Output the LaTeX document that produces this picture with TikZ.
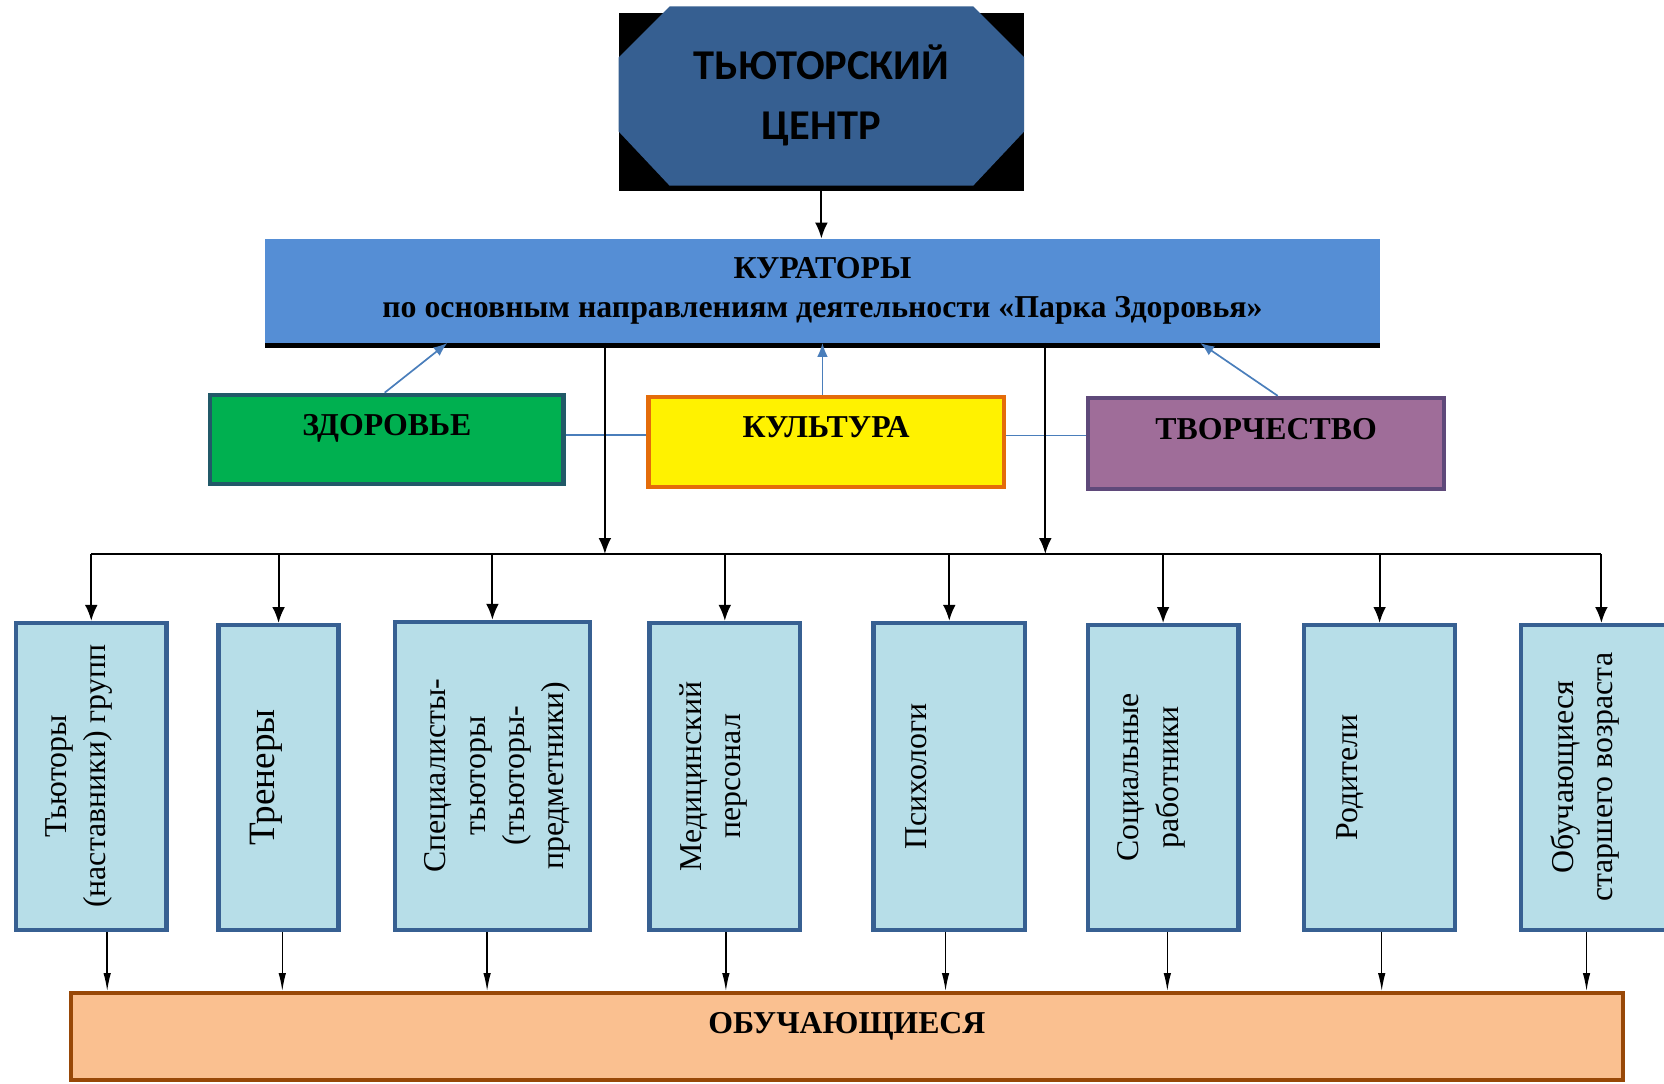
\documentclass[tikz,border=0pt]{standalone}
\usepackage{fontspec}
\setmainfont{Liberation Serif}
\newfontfamily\calfont{Carlito}
\usetikzlibrary{arrows.meta}

\definecolor{tcblue}{HTML}{365F91}
\definecolor{kurblue}{HTML}{558ED5}
\definecolor{zdfill}{HTML}{00B050}
\definecolor{zdline}{HTML}{215968}
\definecolor{kuline}{HTML}{E46C0A}
\definecolor{tvfill}{HTML}{9F6D99}
\definecolor{tvline}{HTML}{5F497A}
\definecolor{boxfill}{HTML}{B7DEE8}
\definecolor{boxline}{HTML}{376092}
\definecolor{uchfill}{HTML}{FAC090}
\definecolor{uchline}{HTML}{984807}
\definecolor{linkblue}{HTML}{4A7EBB}

\tikzset{
	hd/.style={font=\bfseries\fontsize{30}{36}\selectfont},
	tctext/.style={font=\calfont\bfseries\fontsize{40}{56}\selectfont, align=center, inner sep=0pt},
	mbox/.style={hd, line width=4pt, inner sep=0pt, text height=19pt, text depth=27pt},
	pbox/.style={draw=boxline, fill=boxfill, line width=4pt},
	vtext/.style={rotate=90, anchor=north, align=center, inner sep=0pt, font=\fontsize{30}{37}\selectfont},
	arr/.style={line width=1.8pt, -{Latex[length=15pt,width=12pt]}},
	sarr/.style={line width=1.3pt, -{Latex[length=17pt,width=7pt]}},
	bus/.style={line width=2pt},
	bline/.style={draw=linkblue, line width=1.6pt},
	barr/.style={draw=linkblue, fill=linkblue, line width=1.6pt, -{Latex[length=13pt,width=10pt]}}
}

\begin{document}
\begin{tikzpicture}[x=1pt,y=-1pt]
		\useasboundingbox (0,0) rectangle (1568,1021);

		% tutor centre
		\draw (774,96) node [fill=black, minimum width=382pt, minimum height=168pt, inner sep=0pt] (tcb) {};
		\fill[tcblue] (583,54) -- (631,6) -- (917,6) -- (965,54) -- (965,124) -- (917,175) -- (631,175) -- (583,124) -- cycle;
		\draw (774,90) node [tctext] (tc) {ТЬЮТОРСКИЙ\\ЦЕНТР};

		% curators
		\draw (775,274) node [fill=kurblue, minimum width=1050pt, minimum height=98pt, hd, align=center] (kur) {КУРАТОРЫ\\по основным направлениям деятельности «Парка Здоровья»};
		\draw[line width=5pt] ([yshift=-2.5pt]kur.south west) -- ([yshift=-2.5pt]kur.south east);

		% directions
		\draw (364.5,414) node [mbox, draw=zdline, fill=zdfill, minimum width=333pt, minimum height=84pt] (zd) {ЗДОРОВЬЕ};
		\draw (778.5,416.5) node [mbox, draw=kuline, fill=yellow, minimum width=335pt, minimum height=85pt] (ku) {КУЛЬТУРА};
		\draw (1193,418) node [mbox, draw=tvline, fill=tvfill, minimum width=336pt, minimum height=86pt] (tv) {ТВОРЧЕСТВО};

		% tutors
		\draw (86,731.5) node [pbox, minimum width=142pt, minimum height=289pt] (tut) {};
		\draw (262.5,732.5) node [pbox, minimum width=113pt, minimum height=287pt] (tre) {};
		\draw (464,731) node [pbox, minimum width=184pt, minimum height=290pt] (spe) {};
		\draw (683,731.5) node [pbox, minimum width=142pt, minimum height=289pt] (med) {};
		\draw (894.5,731.5) node [pbox, minimum width=143pt, minimum height=289pt] (psy) {};
		\draw (1096,732.5) node [pbox, minimum width=142pt, minimum height=287pt] (soc) {};
		\draw (1300,732.5) node [pbox, minimum width=142pt, minimum height=287pt] (rod) {};
		\draw (1509,732.5) node [pbox, minimum width=152pt, minimum height=287pt] (obs) {};

		\draw ([xshift=30pt]tut.west) node [vtext] {Тьюторы\\(наставники) групп};
		\draw ([xshift=32pt]tre.west) node [vtext, font=\fontsize{35}{40}\selectfont] {Тренеры};
		\draw ([xshift=30pt]spe.west) node [vtext] {Специалисты-\\тьюторы\\(тьюторы-\\предметники)};
		\draw ([xshift=30pt]med.west) node [vtext] {Медицинский\\персонал};
		\draw ([xshift=32pt]psy.west) node [vtext] {Психологи};
		\draw ([xshift=30pt]soc.west) node [vtext] {Социальные\\работники};
		\draw ([xshift=32pt]rod.west) node [vtext] {Родители};
		\draw ([xshift=30pt]obs.west) node [vtext] {Обучающиеся\\старшего возраста};

		% learners
		\draw (798,977) node [mbox, draw=uchline, fill=uchfill, minimum width=1462pt, minimum height=82pt, text depth=25pt] (uch) {ОБУЧАЮЩИЕСЯ};

		\coordinate (j1) at (570,522);
		\coordinate (j2) at (985,522);

		\draw
			([yshift=4pt]zd.east) edge [bline] ([yshift=4pt]zd.east -| ku.west)
			([yshift=6pt]ku.east) edge [bline] ([yshift=6pt]ku.east -| tv.west)
			([xshift=-2pt]zd.north) edge [barr] ([xshift=57pt]zd.north |- kur.south)
			([xshift=-3.5pt]ku.north) edge [barr] ([xshift=-3.5pt]ku.north |- kur.south)
			([xshift=11pt]tv.north) edge [barr] ([xshift=-62pt]tv.north |- kur.south)
		;

		\draw
			(tcb.south) edge [arr] (tcb.south |- kur.north)
			(kur.south -| j1) edge [arr] (j1)
			(kur.south -| j2) edge [arr] (j2)
			(tut.north |- j1) edge [bus] (obs.north |- j1)
			(tut.north |- j1) edge [arr] (tut.north)
			(tre.north |- j1) edge [arr] (tre.north)
			(spe.north |- j1) edge [arr] (spe.north)
			(med.north |- j1) edge [arr] (med.north)
			(psy.north |- j1) edge [arr] (psy.north)
			(soc.north |- j1) edge [arr] (soc.north)
			(rod.north |- j1) edge [arr] (rod.north)
			(obs.north |- j1) edge [arr] (obs.north)
			([xshift=15pt]tut.south) edge [sarr] ([xshift=15pt]tut.south |- uch.north)
			([xshift=3.5pt]tre.south) edge [sarr] ([xshift=3.5pt]tre.south |- uch.north)
			([xshift=-5pt]spe.south) edge [sarr] ([xshift=-5pt]spe.south |- uch.north)
			([xshift=1pt]med.south) edge [sarr] ([xshift=1pt]med.south |- uch.north)
			([xshift=-3.5pt]psy.south) edge [sarr] ([xshift=-3.5pt]psy.south |- uch.north)
			([xshift=4pt]soc.south) edge [sarr] ([xshift=4pt]soc.south |- uch.north)
			([xshift=2pt]rod.south) edge [sarr] ([xshift=2pt]rod.south |- uch.north)
			([xshift=-14pt]obs.south) edge [sarr] ([xshift=-14pt]obs.south |- uch.north)
		;
	\end{tikzpicture}
\end{document}
